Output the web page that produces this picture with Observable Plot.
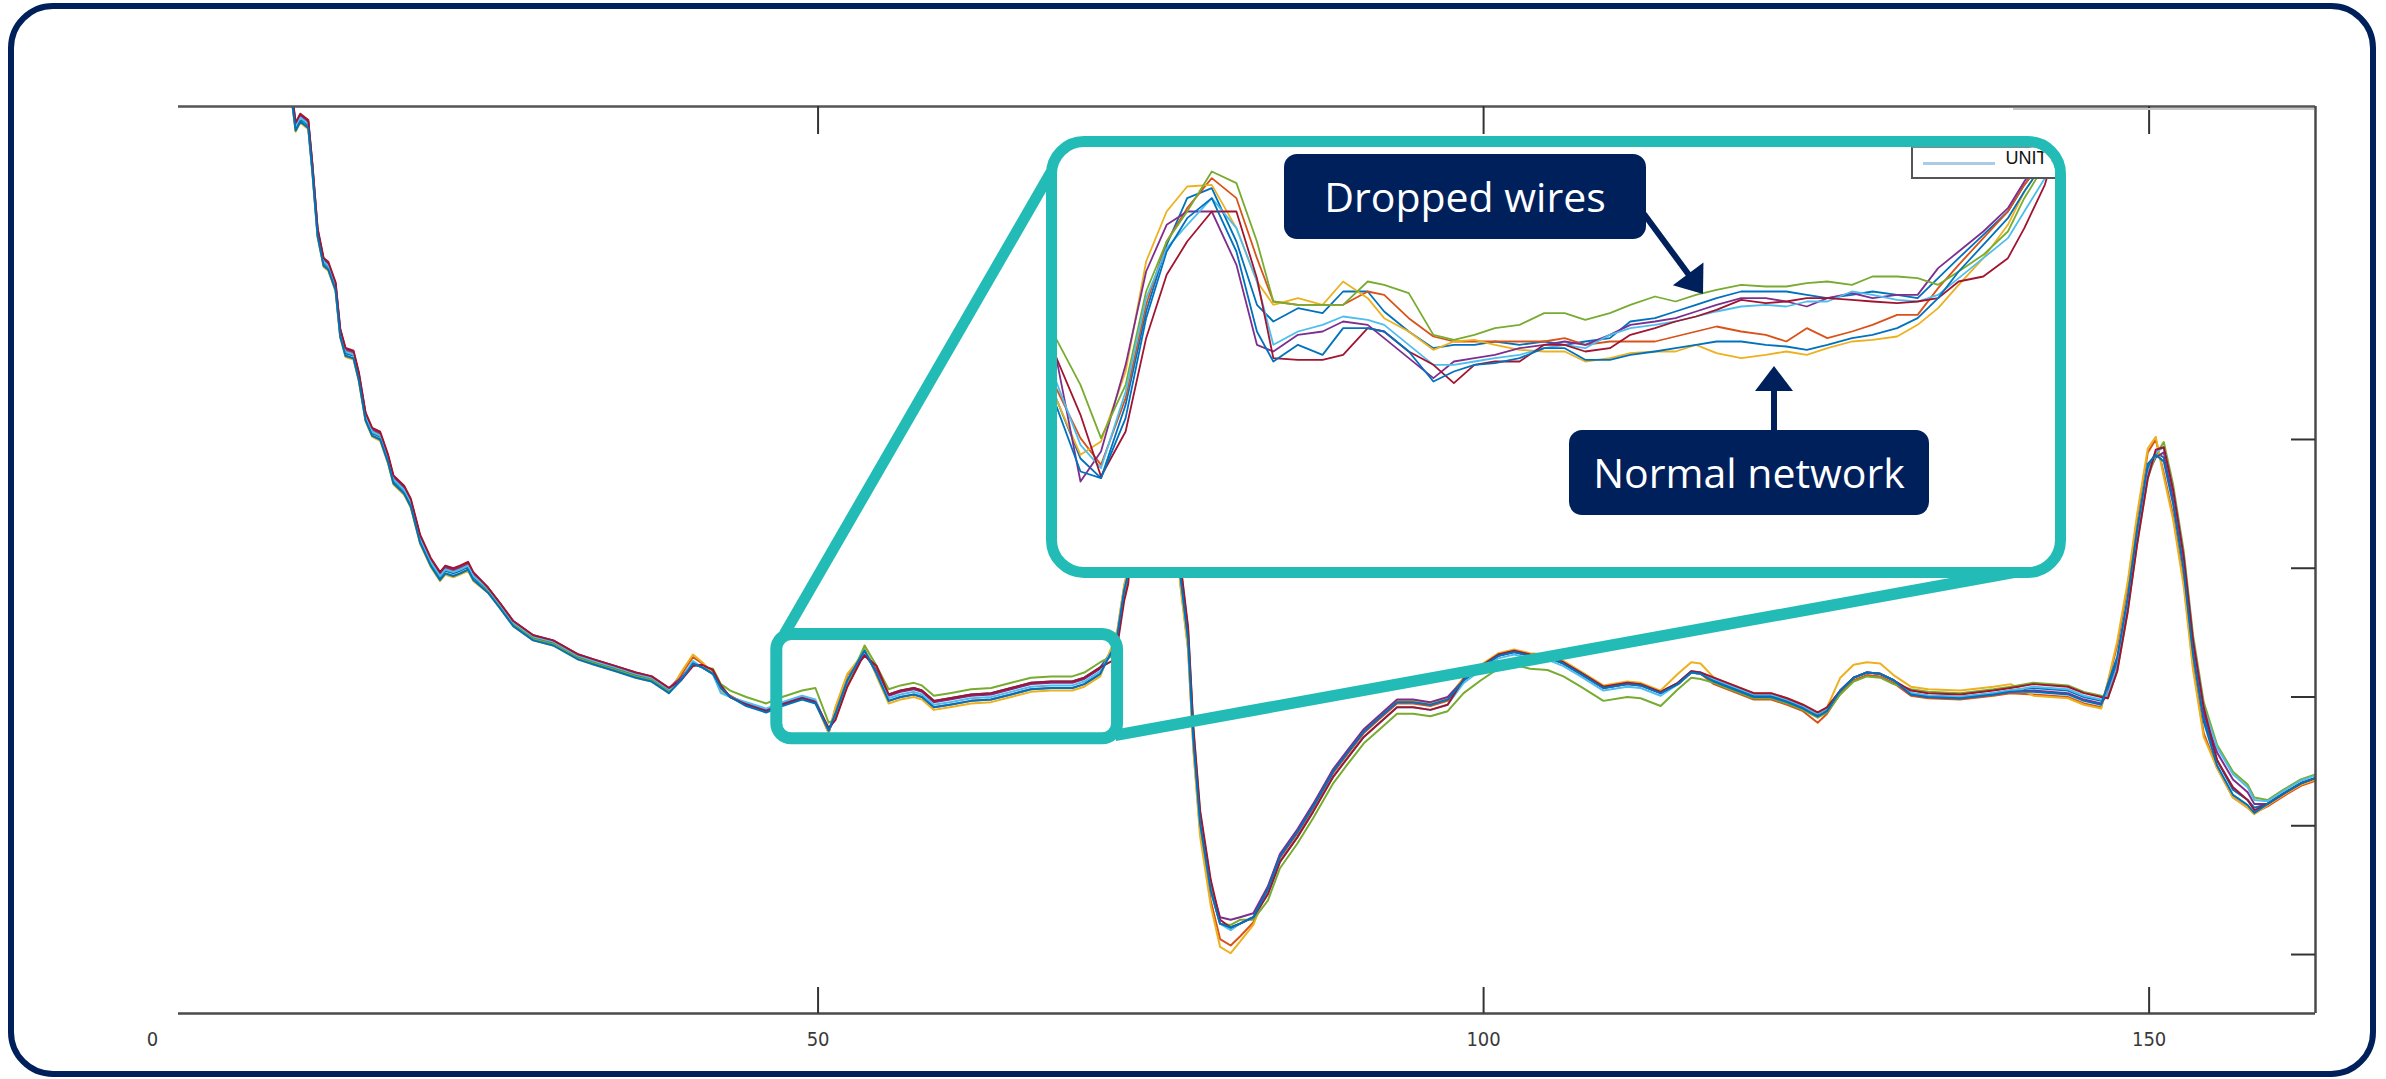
<!DOCTYPE html>
<html>
<head>
<meta charset="utf-8">
<script src="https://cdn.jsdelivr.net/npm/d3@7"></script>
<script src="https://cdn.jsdelivr.net/npm/@observablehq/plot@0.6"></script>
<style>
html, body { margin: 0; padding: 0; background: #fff; }
#page { position: relative; width: 2386px; height: 1079px; overflow: hidden; background: #fff; }
#page > svg { position: absolute; left: 0; top: 0; }
#frame { position: absolute; left: 8px; top: 3px; width: 2368px; height: 1074px; box-sizing: border-box;
  border: 6px solid #00205b; border-radius: 45px; pointer-events: none; }
#inset { position: absolute; left: 1045.5px; top: 135.5px; width: 1020px; height: 442px; box-sizing: border-box;
  border: 11px solid #22bbb5; border-radius: 38px; overflow: hidden; background: #fff; }
#inset svg { position: absolute; left: 0; top: 0; }
#legend { position: absolute; left: 854px; top: 0px; width: 220px; height: 32px; box-sizing: border-box; background: #fff;
  border: 1px solid #888; border-left: 2px solid #555; border-bottom: 2px solid #555; }
#legend .sample { position: absolute; left: 10px; top: 14px; width: 72px; height: 3px; background: #a9cde9; }
#legend .lab { position: absolute; left: 93px; top: 0; line-height: 30px; font: 18px "Liberation Sans", Arial, sans-serif; color: #111; }
</style>
</head>
<body>
<div id="page"></div>
<script>
// ---------------- data ----------------
const seriesKeys = ["s1", "s2", "s3", "s4", "s5", "s6", "s7", "s8"];
const seriesColors = ["#0072BD", "#D95319", "#EDB120", "#7E2F8E", "#77AC30", "#4DBEEE", "#A2142F", "#0072BD"];

const xTicks = [0, 50, 100, 150];
const yTicks = [0, 100, 200, 300, 400];

// main chart sample positions
const xs = [10.4, 10.75, 11.1, 11.7, 12.0, 12.4, 12.85, 13.2, 13.75, 14.1,
  14.5, 15.1, 15.5, 16.0, 16.5, 17.1, 17.7, 18.1, 18.9, 19.4,
  20.1, 20.9, 21.6, 22.0, 22.6, 23.1, 23.7, 24.1, 25.2, 26.1,
  27.1, 28.6, 30.1, 32.0, 33.2, 34.8, 36.3, 37.5, 38.8, 39.7,
  40.6, 41.3, 42.1, 42.7, 43.4, 44.6, 46.1, 47.3, 48.8, 49.8,
  50.8, 51.3, 52.2, 53.2, 53.5, 54.4, 55.3, 56.2, 57.2, 57.8,
  58.7, 59.9, 61.5, 63.0, 64.5, 66.0, 67.5, 69.1, 70.0, 71.2,
  72.1, 72.5, 73.0, 73.3, 74.2, 75.2, 76.2, 77.2, 77.8, 78.2,
  78.7, 79.5, 80.2, 81.0, 81.7, 82.7, 83.8, 84.7, 86.0, 87.2,
  88.7, 89.8, 91.0, 92.3, 93.5, 94.7, 96.0, 97.3, 98.5, 99.8,
  101.1, 102.3, 103.5, 104.8, 106.0, 107.3, 109.0, 110.8, 111.8, 113.3,
  114.6, 115.6, 116.3, 117.3, 118.8, 120.3, 121.6, 122.8, 124.0, 125.1,
  125.8, 126.8, 127.8, 128.8, 129.8, 130.8, 132.1, 133.4, 135.8, 138.3,
  139.6, 141.3, 143.9, 145.1, 146.4, 146.9, 147.6, 148.4, 149.1, 149.9,
  150.5, 151.1, 151.8, 152.6, 153.3, 154.1, 155.1, 156.3, 157.4, 157.9,
  158.9, 160.1, 161.4, 162.5];

const s1 = [671,642,649,644,611,560,537,534,518,482,467,465,448,417,405,402,384,368,360,350,322,304,293,298,296,298,301,293,
  283,271,257,246,242,231,227,222,217,214,205,
  213,226,223,218,207,200,
  195,190,195,200,197,
  174,187,213,231,236,218,
  202,205,207,205,197,199,202,203,207,211,212,212,215,223,
  236,249,283,296,420,520,440,296,244,166,
  102,50,24,21,24,29,
  52,77,96,116,143,158,174,186,197,197,195,199,
  214,224,233,236,233,232,227,219,208,211,210,204,
  211,220,219,
  213,207,201,201,197,192,186,190,
  205,215,219,218,213,
  203,201,200,203,205,207,205,200,197,
  207,228,275,327,378,
  390,
  386,353,301,236,184,
  151,128,120,114,
  117,125,133,137];

const s2 = [673,644,651,646,613,562,539,536,520,484,469,467,450,419,407,404,386,370,362,352,324,306,295,300,298,300,303,295,
  284,272,258,247,243,232,228,223,218,215,206,
  217,231,226,219,204,201,
  194,189,194,199,196,
  172,191,217,231,236,221,
  197,200,202,200,192,194,197,198,202,206,207,207,210,218,
  239,252,286,299,420,520,440,290,238,160,
  96,42,12,7,14,25,
  50,75,94,114,141,156,172,184,195,195,193,197,
  213,223,232,235,232,231,226,218,207,210,209,203,
  210,219,218,
  210,204,198,198,194,189,180,187,
  203,213,217,216,211,
  201,199,198,201,203,202,200,195,192,
  211,240,287,339,390,
  400,
  374,341,289,224,172,
  145,122,114,110,
  115,123,131,135];

const s3 = [668,639,646,641,608,557,534,531,515,479,464,462,445,414,402,399,381,365,357,347,319,301,290,295,293,295,298,290,
  281,269,255,244,240,229,225,220,215,212,203,
  219,233,227,218,204,200,
  194,189,194,199,196,
  172,192,218,231,238,216,
  195,198,200,198,190,192,195,196,200,204,205,205,208,216,
  240,253,287,300,420,520,440,288,236,158,
  92,38,6,1,10,23,
  52,77,96,116,143,158,174,186,197,197,195,199,
  215,225,234,237,234,233,228,220,209,212,211,205,
  218,227,226,
  215,209,203,203,199,194,184,192,
  215,225,227,226,217,
  208,206,205,208,210,201,199,194,191,
  212,243,290,342,393,
  402,
  371,338,286,221,169,
  145,122,114,109,
  116,124,132,136];

const s4 = [674,645,652,647,614,563,540,537,521,485,470,468,451,420,408,405,387,371,363,353,325,307,296,301,299,301,304,296,
  285,273,259,248,244,233,229,224,219,216,207,
  215,226,223,218,208,200,
  195,190,195,200,197,
  174,184,211,230,233,220,
  201,204,206,204,196,198,201,202,206,210,211,211,214,222,
  234,247,281,294,420,520,440,300,248,170,
  106,54,29,27,29,32,
  53,78,97,117,144,159,175,187,198,198,196,200,
  213,223,232,235,232,231,226,218,207,210,209,203,
  210,219,218,
  214,208,202,202,198,193,187,191,
  205,215,219,218,213,
  202,200,199,202,204,205,203,198,195,
  203,224,271,323,374,
  386,
  390,357,305,240,188,
  157,136,126,117,
  117,125,133,137];

const s5 = [669,640,647,642,609,558,535,532,516,480,465,463,446,415,403,400,382,366,358,348,320,302,291,296,294,296,299,291,
  282,270,256,245,241,230,226,221,216,213,204,
  213,226,223,222,210,205,
  200,195,200,205,207,
  180,183,210,233,240,224,
  206,209,211,209,201,203,206,207,211,215,216,216,219,227,
  232,245,279,292,420,520,440,304,252,174,
  110,55,24,23,27,27,
  42,67,86,106,133,148,164,176,187,187,185,189,
  203,213,222,225,222,221,216,208,197,200,199,193,
  206,215,214,
  211,205,199,199,195,190,184,188,
  202,212,216,215,210,
  206,204,203,206,208,211,209,204,201,
  199,220,267,319,370,
  388,
  398,365,313,248,196,
  163,142,132,122,
  120,128,136,140];

const s6 = [672,643,650,645,612,561,538,535,519,483,468,466,449,418,406,403,385,369,361,351,323,305,294,299,297,299,302,294,
  284,272,258,247,243,232,228,223,218,215,206,
  213,228,223,218,203,200,
  196,191,196,201,198,
  174,187,213,231,236,218,
  199,202,204,202,194,196,199,200,204,208,209,209,212,220,
  236,249,283,296,420,520,440,296,244,166,
  102,50,24,19,24,29,
  47,72,91,111,138,153,169,181,192,192,190,194,
  211,221,230,233,230,229,224,216,205,208,207,201,
  210,219,218,
  214,208,202,202,198,193,187,191,
  205,215,219,218,213,
  203,201,200,203,205,208,206,201,198,
  202,223,270,322,373,
  390,
  394,361,309,244,192,
  161,140,130,120,
  119,127,135,139];

const s7 = [675,646,653,648,615,564,541,538,522,486,471,469,452,421,409,406,388,372,364,354,326,308,297,302,300,302,305,297,
  285,273,259,248,244,233,229,224,219,216,207,
  213,224,225,221,209,200,
  194,189,194,199,196,
  176,182,208,228,232,224,
  202,205,207,205,197,199,202,203,207,211,212,212,215,223,
  228,241,275,288,420,520,440,306,254,176,
  112,58,27,21,24,29,
  47,72,91,111,138,153,169,181,192,192,190,194,
  214,224,233,236,233,232,227,219,208,211,210,204,
  211,220,219,
  215,209,203,203,199,194,188,192,
  205,215,219,218,213,
  205,203,202,205,207,210,208,203,200,
  199,220,267,319,370,
  392,
  394,361,309,244,192,
  151,130,120,112,
  117,125,133,137];

const s8 = [669,640,647,642,609,558,535,532,516,480,465,463,446,415,403,400,382,366,358,348,320,302,291,296,294,296,299,291,
  281,269,255,244,240,229,225,220,215,212,203,
  213,226,223,218,207,200,
  193,188,193,198,195,
  174,187,213,231,236,218,
  197,200,202,200,192,194,197,198,202,206,207,207,210,218,
  236,249,283,296,420,520,440,296,244,166,
  102,50,24,21,24,29,
  51,76,95,115,142,157,173,185,196,196,194,198,
  213,223,232,235,232,231,226,218,207,210,209,203,
  210,219,218,
  212,206,200,200,196,191,185,189,
  205,215,219,218,213,
  202,200,199,202,204,204,202,197,194,
  210,231,278,330,381,
  388,
  383,350,298,233,181,
  147,124,116,110,
  117,125,133,137];

// range of the main chart that is magnified
const zoomRangeX = [46.9, 72.5];
const zoomRangeY = [167.5, 248.5];

// inset (magnified view) data
const insetX = [49.8, 50.4, 50.9, 51.5, 52.0, 52.5, 53.0, 53.6, 54.2, 54.7,
  55.1, 55.7, 56.3, 56.8, 57.4, 57.8, 58.4, 59.0, 59.5, 60.0,
  60.5, 61.1, 61.7, 62.2, 62.7, 63.3, 63.8, 64.4, 64.9, 65.4,
  65.9, 66.5, 67.1, 67.6, 68.1, 68.6, 69.2, 69.7, 70.3, 70.8,
  71.3, 71.8, 72.4, 73.0, 73.4, 73.9, 74.4];
const i1 = [60.2,41.9,36,58,86,106,120,123,107,88, 83,87,85.5,92,92,86,80,75,76,76, 77,76,77,76,77,78,83,84,86,88, 90,92,92,92,91,90,91,92,91,90, 96,102,109,116,124,132,142];
const i2 = [63.2,48,40,60,88,107,117,126,120,102, 89,88,88,88,92,91,84,78.5,77,77, 77,77,77,78,76,77,77,77,78.5,80, 81.5,80,79,77,81,78,80,82,85,85, 93,100,108,116,124,132,142];
const i3 = [60,43,47,68,101,116,123.5,124,111,95, 88,90,88,95,90,84,80,74.5,77,77.5, 76,74.5,74,74,71,72,73.5,74,74,76, 73.5,72,73,74,73,75,77,77.5,78.5,82, 87,94,102,112,122,131,141];
const i4 = [72.8,35,44,70,98,112,116,116,100,76, 74,79,80,83,82,78,72,66,71,72, 73,75,76,77,76,79,82,83,84,86, 88,90,90,89,87.5,90,91.5,90,91,91, 99,104,110,117,125,134,144];
const i5 = [78,64,48,64,92,107,116,128,124.5,107, 89,88,88,88,95,94,91.5,79,77.5,79, 81,82,85.5,85.5,83.5,85.5,88,90.5,89,91, 92.5,94,93.5,93.5,94.5,95,94,96.5,96.5,96, 94,98,103,110,120,130,140];
const i6 = [65.3,46,39,62,90,105,112,120,111,95, 76,80,82,84.5,83.5,82,76,70,70,71, 72,73,75,76,75,79,81,82,83,84.5, 86,87.5,88,87.5,89,89,92,91,89.5,89, 91,96,102,108,116,126,138];
const i7 = [72.5,55,36.5,50,78,97,107,116,116,96, 72,71.5,71.5,73,81,80,74,70,64.5,70, 71,71,76,76,74,75,79,81,83,84.5, 86.5,89.5,88.5,89,90,90,89.5,89,88.5,89, 90,95,96.5,102,111,124,145];
const i8 = [58,38,36,54,84,104,114,120,104,80, 71,76,73,81,81,80,74,65,68,70, 70.5,72,75,75,71.5,71.5,73,74,75,76, 77,77,76,75.5,74.5,76,78,79,81,84, 90,98,106,114,122,131,141];

const calloutLabels = ["Dropped wires", "Normal network"];
const legendLabel = "UNIT";

// ---------------- build ----------------
function toRows(xArr, arrays) {
  const rows = [];
  arrays.forEach((arr, k) => arr.forEach((v, j) => rows.push({x: xArr[j], y: v, s: seriesKeys[k]})));
  return rows;
}
const mainRows = toRows(xs, [s1, s2, s3, s4, s5, s6, s7, s8]);
const insetRows = toRows(insetX, [i1, i2, i3, i4, i5, i6, i7, i8]);

const X_DOMAIN = [1.95, 162.5];
const Y_DOMAIN = [-45.8, 658.6];
const PX_PER_Y = 907 / (Y_DOMAIN[1] - Y_DOMAIN[0]);
const PX_PER_X = 2137 / (X_DOMAIN[1] - X_DOMAIN[0]);
const TEAL = "#22bbb5", NAVY = "#00205b";

const page = document.getElementById("page");

const main = Plot.plot({
  width: 2386, height: 1079,
  marginLeft: 178, marginRight: 71, marginTop: 106, marginBottom: 66,
  x: {domain: X_DOMAIN, axis: null},
  y: {domain: Y_DOMAIN, axis: null},
  color: {domain: seriesKeys, range: seriesColors},
  style: {background: "transparent"},
  marks: [
    Plot.line(mainRows, {x: "x", y: "y", z: "s", stroke: "s", strokeWidth: 2, clip: true}),
    Plot.ruleY([Y_DOMAIN[0]], {stroke: "#4a4a4a", strokeWidth: 2.5}),
    Plot.ruleY([Y_DOMAIN[1]], {stroke: "#555", strokeWidth: 2.5}),
    Plot.ruleX([X_DOMAIN[1]], {stroke: "#4a4a4a", strokeWidth: 2.5}),
    Plot.ruleX(xTicks.filter(t => t > X_DOMAIN[0]), {y1: Y_DOMAIN[0], y2: Y_DOMAIN[0] + 26 / PX_PER_Y, stroke: "#333", strokeWidth: 2}),
    Plot.ruleX(xTicks.filter(t => t > X_DOMAIN[0]), {y1: Y_DOMAIN[1], y2: Y_DOMAIN[1] - 28 / PX_PER_Y, stroke: "#333", strokeWidth: 2}),
    Plot.ruleY(yTicks, {x1: X_DOMAIN[1], x2: X_DOMAIN[1] - 24 / PX_PER_X, stroke: "#333", strokeWidth: 2}),
    Plot.text(xTicks, {x: d => d, y: Y_DOMAIN[0], dy: 26, text: d => String(d), fontSize: 20,
      fill: "#3a3a3a", lineAnchor: "middle",
      fontFamily: "'DejaVu Sans Condensed', 'Liberation Sans', Arial, sans-serif"})
  ]
});
page.appendChild(main);

const sx = main.scale("x"), sy = main.scale("y");

// overlay: zoom box + connectors
const ov = d3.select(page).append("svg").attr("width", 2386).attr("height", 1079);
ov.append("line").attr("x1", 2013).attr("y1", 109).attr("x2", 2314).attr("y2", 109)
  .attr("stroke", "#c8c8c8").attr("stroke-width", 2);
const bx1 = sx.apply(zoomRangeX[0]), bx2 = sx.apply(zoomRangeX[1]);
const by1 = sy.apply(zoomRangeY[1]), by2 = sy.apply(zoomRangeY[0]);
ov.append("rect").attr("x", bx1).attr("y", by1).attr("width", bx2 - bx1).attr("height", by2 - by1)
  .attr("rx", 15).attr("fill", "none").attr("stroke", TEAL).attr("stroke-width", 12);
ov.append("line").attr("x1", bx1 + 8).attr("y1", by1).attr("x2", 1051).attr("y2", 172)
  .attr("stroke", TEAL).attr("stroke-width", 11);
ov.append("line").attr("x1", bx2 - 2).attr("y1", by2 - 3).attr("x2", 2032).attr("y2", 569)
  .attr("stroke", TEAL).attr("stroke-width", 11.5);

// inset
const insetDiv = document.createElement("div");
insetDiv.id = "inset";
page.appendChild(insetDiv);
const inset = Plot.plot({
  width: 998, height: 420, margin: 0,
  x: {domain: [49.84, 74.16], axis: null},
  y: {domain: [9.2, 135.2], axis: null},
  color: {domain: seriesKeys, range: seriesColors},
  style: {background: "transparent"},
  marks: [
    Plot.line(insetRows, {x: "x", y: "y", z: "s", stroke: "s", strokeWidth: 1.8, clip: true})
  ]
});
insetDiv.appendChild(inset);
const leg = document.createElement("div");
leg.id = "legend";
leg.innerHTML = `<div class="sample"></div><div class="lab">${legendLabel}</div>`;
insetDiv.appendChild(leg);

// callouts
const co = d3.select(page).append("svg").attr("width", 2386).attr("height", 1079);
const callouts = [
  {text: calloutLabels[0], box: [1284, 154, 362, 85], tx: 1465, ty: 212, from: [1644, 214], tip: [1703, 294]},
  {text: calloutLabels[1], box: [1569, 430, 360, 85], tx: 1749, ty: 488, from: [1774, 432], tip: [1774, 366]}
];
for (const c of callouts) {
  const [fx, fy] = c.from, [tx, ty] = c.tip;
  const len = Math.hypot(tx - fx, ty - fy), ux = (tx - fx) / len, uy = (ty - fy) / len;
  const hl = 25, hw = 19;
  const bxc = tx - ux * hl, byc = ty - uy * hl;
  co.append("line").attr("x1", fx).attr("y1", fy).attr("x2", bxc + ux * 2).attr("y2", byc + uy * 2)
    .attr("stroke", NAVY).attr("stroke-width", 6);
  co.append("polygon").attr("points", [[tx, ty], [bxc - uy * hw, byc + ux * hw], [bxc + uy * hw, byc - ux * hw]].map(p => p.join(",")).join(" "))
    .attr("fill", NAVY);
  co.append("rect").attr("x", c.box[0]).attr("y", c.box[1]).attr("width", c.box[2]).attr("height", c.box[3])
    .attr("rx", 13).attr("fill", NAVY);
  co.append("text").attr("x", c.tx).attr("y", c.ty).attr("text-anchor", "middle")
    .attr("font-family", "'Open Sans', 'Noto Sans', sans-serif").attr("font-size", 41).attr("fill", "#fff")
    .text(c.text);
}

const frame = document.createElement("div");
frame.id = "frame";
page.appendChild(frame);
</script>
</body>
</html>
